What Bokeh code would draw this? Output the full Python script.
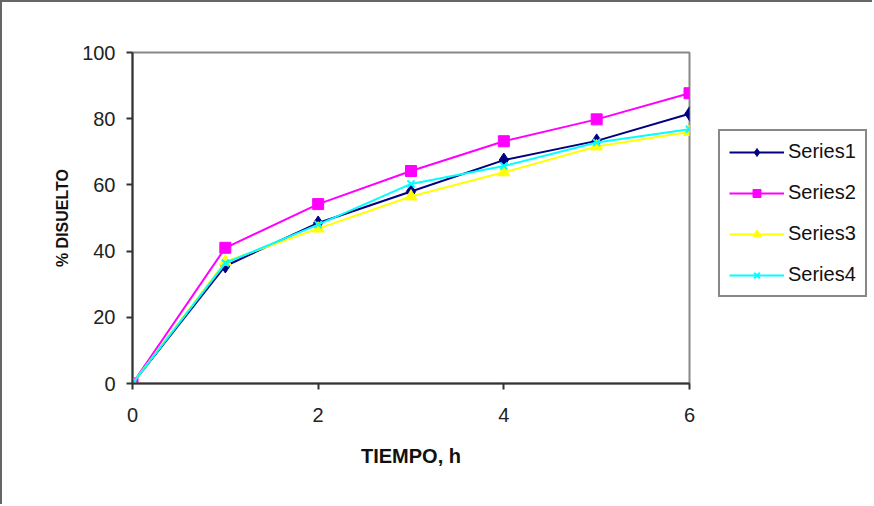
from bokeh.plotting import figure
from bokeh.models import Legend, LegendItem, FixedTicker, Range1d
from bokeh.layouts import row
from bokeh.embed import file_html
from bokeh.resources import INLINE

tiempo = [0, 1, 2, 3, 4, 5, 6]
series1 = [0, 35.5, 48.5, 58.0, 67.5, 73.3, 81.5]
series2 = [0, 41.0, 54.2, 64.2, 73.2, 79.8, 87.7]
series3 = [0, 36.8, 46.8, 56.5, 63.8, 71.6, 76.0]
series4 = [0, 36.4, 48.0, 60.3, 65.7, 72.8, 76.8]
names = ["Series1", "Series2", "Series3", "Series4"]

x_ticks = [0, 2, 4, 6]
y_ticks = [0, 20, 40, 60, 80, 100]

p = figure(frame_width=555, frame_height=329, output_backend="svg", toolbar_location=None,
           x_range=Range1d(0, 6), y_range=Range1d(0, 100),
           min_border_left=130, min_border_right=10, min_border_top=50, min_border_bottom=123)
p.styles = {"border-left": "2px solid #666", "border-top": "2px solid #666"}

p.xgrid.visible = False
p.ygrid.visible = False
p.outline_line_color = "#888888"
p.outline_line_width = 2

for ax in (p.xaxis, p.yaxis):
    ax.axis_line_color = "#333333"
    ax.axis_line_width = 2
    ax.major_tick_line_color = "#333333"
    ax.major_tick_line_width = 2
    ax.major_tick_out = 6
    ax.major_tick_in = 0
    ax.minor_tick_line_color = None
    ax.major_label_text_font = "Liberation Sans"
    ax.major_label_text_font_size = "20px"
    ax.major_label_text_color = "#222222"
    ax.axis_label_text_font = "Liberation Sans"
    ax.axis_label_text_font_style = "bold"
    ax.axis_label_text_color = "#111111"

p.xaxis.axis_label_text_font_size = "20px"
p.yaxis.axis_label_text_font_size = "16px"
p.xaxis.ticker = FixedTicker(ticks=x_ticks)
p.yaxis.ticker = FixedTicker(ticks=y_ticks)
p.xaxis.axis_label = "TIEMPO, h"
p.yaxis.axis_label = "% DISUELTO"
p.xaxis.axis_label_standoff = 20
p.yaxis.axis_label_standoff = 8
p.xaxis.major_label_standoff = 18
p.yaxis.major_label_standoff = 11

styles = [
    dict(color="#000080", marker="diamond", size=14),
    dict(color="#FF00FF", marker="square", size=11),
    dict(color="#FFFF00", marker="triangle", size=12),
    dict(color="#00FFFF", marker="x", size=10),
]
all_series = [series1, series2, series3, series4]

for ys, st in zip(all_series, styles):
    p.line(tiempo, ys, line_color=st["color"], line_width=2)
    p.scatter(tiempo, ys, marker=st["marker"], size=st["size"],
              fill_color=st["color"], line_color=st["color"], line_width=2 if st["marker"] == "x" else 1)

# legend panel (its ranges keep the duplicated series out of view; only the legend shows)
pl = figure(width=175, height=504, output_backend="svg", toolbar_location=None,
            x_range=Range1d(100, 101), y_range=Range1d(1000, 1001),
            x_axis_location=None, y_axis_location=None, min_border=0)
pl.styles = {"border-top": "2px solid #666"}
pl.xgrid.visible = False
pl.ygrid.visible = False
pl.outline_line_color = None

items = []
for name, ys, st in zip(names, all_series, styles):
    lr = pl.line(tiempo, ys, line_color=st["color"], line_width=2)
    mr = pl.scatter(tiempo, ys, marker=st["marker"], size=st["size"],
                    fill_color=st["color"], line_color=st["color"], line_width=2 if st["marker"] == "x" else 1)
    items.append(LegendItem(label=name, renderers=[lr, mr]))

legend = Legend(items=items, location=(21, 86))
legend.border_line_color = "#111111"
legend.border_line_width = 2
legend.label_text_font = "Liberation Sans"
legend.label_text_font_size = "20px"
legend.label_text_color = "#111111"
legend.glyph_width = 55
legend.glyph_height = 20
legend.label_height = 20
legend.spacing = 18
legend.padding = 9
legend.margin = 0
legend.label_standoff = 4
legend.background_fill_alpha = 1
pl.add_layout(legend, "center")

layout = row(p, pl, spacing=0)
open("out.html", "w").write(file_html(layout, INLINE))
